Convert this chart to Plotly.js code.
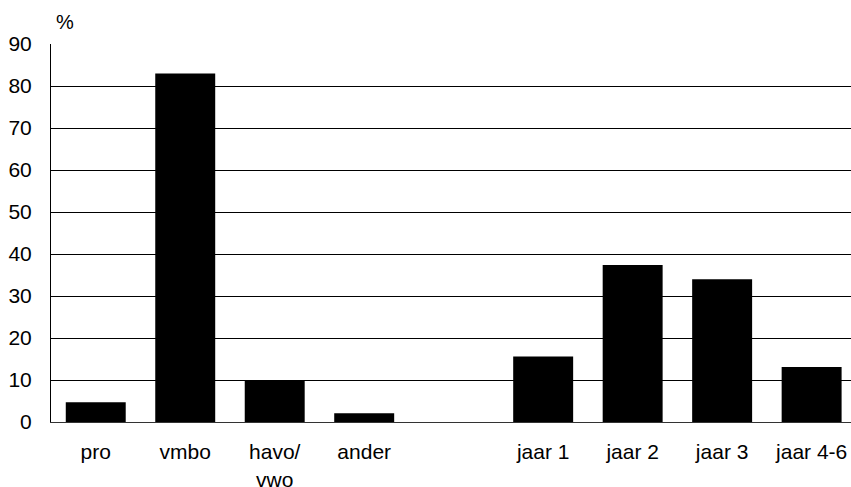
<!DOCTYPE html>
<html>
<head>
<meta charset="utf-8">
<script src="https://cdn.plot.ly/plotly-3.0.1.min.js"></script>
<style>html,body{margin:0;padding:0;background:#fff;}#chart{width:851px;height:487px;}</style>
</head>
<body>
<div id="chart"></div>
<script>
const categories = ['pro', 'vmbo', 'havo/<br>vwo', 'ander', ' ', 'jaar 1', 'jaar 2', 'jaar 3', 'jaar 4-6'];
const values = [4.7, 83, 10, 2.1, null, 15.6, 37.4, 34, 13.1];
const yTicks = [0, 10, 20, 30, 40, 50, 60, 70, 80, 90];
const unitLabel = '%';

const font = {family: 'Liberation Sans, Arial, sans-serif', size: 21, color: '#000'};

Plotly.newPlot('chart', [{
  type: 'bar',
  x: categories,
  y: values,
  marker: {color: '#000', line: {width: 0}},
  hoverinfo: 'none'
}], {
  width: 851,
  height: 487,
  margin: {l: 51, r: 0, t: 44, b: 65},
  paper_bgcolor: '#fff',
  plot_bgcolor: '#fff',
  bargap: 0.33,
  showlegend: false,
  font: font,
  xaxis: {
    type: 'category',
    categoryorder: 'array',
    categoryarray: categories,
    range: [-0.5, 8.44],
    showgrid: false,
    zeroline: false,
    showline: true,
    linecolor: '#333',
    linewidth: 1,
    ticks: '',
    tickfont: font,
    ticklabelstandoff: 11,
    fixedrange: true
  },
  yaxis: {
    range: [0, 90],
    tickvals: yTicks,
    ticktext: yTicks.map(String),
    showgrid: true,
    gridcolor: '#000',
    gridwidth: 1,
    zeroline: false,
    showline: true,
    linecolor: '#000',
    linewidth: 1,
    ticks: '',
    tickfont: font,
    ticklabelstandoff: 14,
    fixedrange: true
  },
  annotations: [{
    text: unitLabel,
    xref: 'paper', yref: 'paper',
    x: 0, y: 1,
    xanchor: 'left', yanchor: 'bottom',
    xshift: 3, yshift: 9,
    showarrow: false,
    font: {family: font.family, size: 20, color: '#000'}
  }]
}, {staticPlot: true, displayModeBar: false});
</script>
</body>
</html>
